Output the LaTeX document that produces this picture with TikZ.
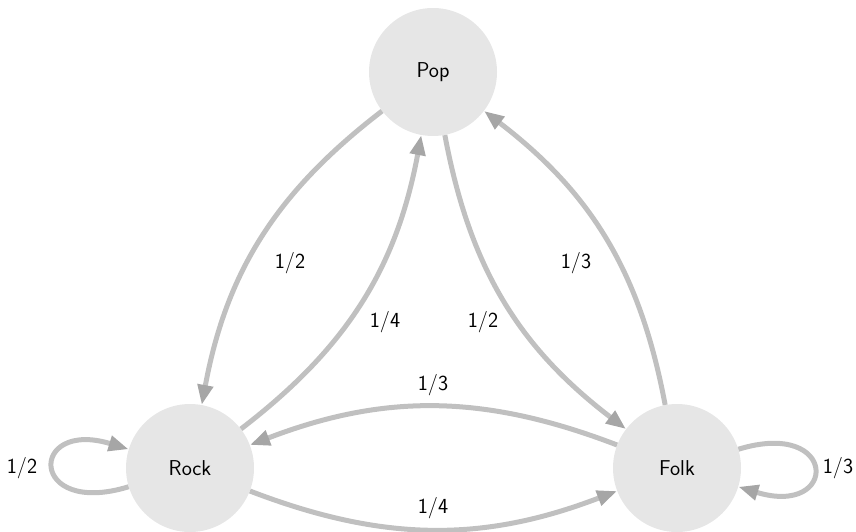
\documentclass[tikz,border=0pt]{standalone}
\usetikzlibrary{arrows.meta}
\definecolor{statefill}{HTML}{E6E6E6}
\definecolor{edgegray}{HTML}{C0C0C0}
\definecolor{tipgray}{HTML}{A6A6A6}
\begin{document}
\begin{tikzpicture}[x=1pt,y=1pt,
  font=\sffamily\fontsize{21.5}{25}\selectfont,
  state/.style={circle,fill=statefill,minimum size=128pt,inner sep=0pt},
  trans/.style={draw=edgegray,line width=5pt,
    -{Triangle[length=20pt,width=15pt,color=tipgray]}},
  prob/.style={inner sep=0pt}]
\useasboundingbox (0,0) rectangle (856,531);

% states
\node[state] (pop)  at (433,459) {Pop};
\node[state] (rock) at (190,63)  {Rock};
\node[state] (folk) at (677,63)  {Folk};

% transitions between states
\draw[trans] (pop)  to[bend right=21] (rock);
\draw[trans] (rock) to[bend right=21] (pop);
\draw[trans] (pop)  to[bend right=21] (folk);
\draw[trans] (folk) to[bend right=21] (pop);
\draw[trans] (folk) to[bend right=21] (rock);
\draw[trans] (rock) to[bend right=21] (folk);

% self loops
\draw[trans] (rock.197) .. controls +(197:105) and +(163:105) .. (rock.163);
\draw[trans] (folk.17) .. controls +(17:105) and +(-17:105) .. (folk.-17);

% transition probabilities
\node[prob] (lpr) at (290,268) {1/2};
\node[prob] (lrp) at (385,209) {1/4};
\node[prob] (lpf) at (483,209) {1/2};
\node[prob] (lfp) at (576,268) {1/3};
\node[prob] (lfr) at (433,146) {1/3};
\node[prob] (lrf) at (433,23)  {1/4};
\node[prob] (lrr) at (22,63)   {1/2};
\node[prob] (lff) at (838,63)  {1/3};
\end{tikzpicture}
\end{document}
